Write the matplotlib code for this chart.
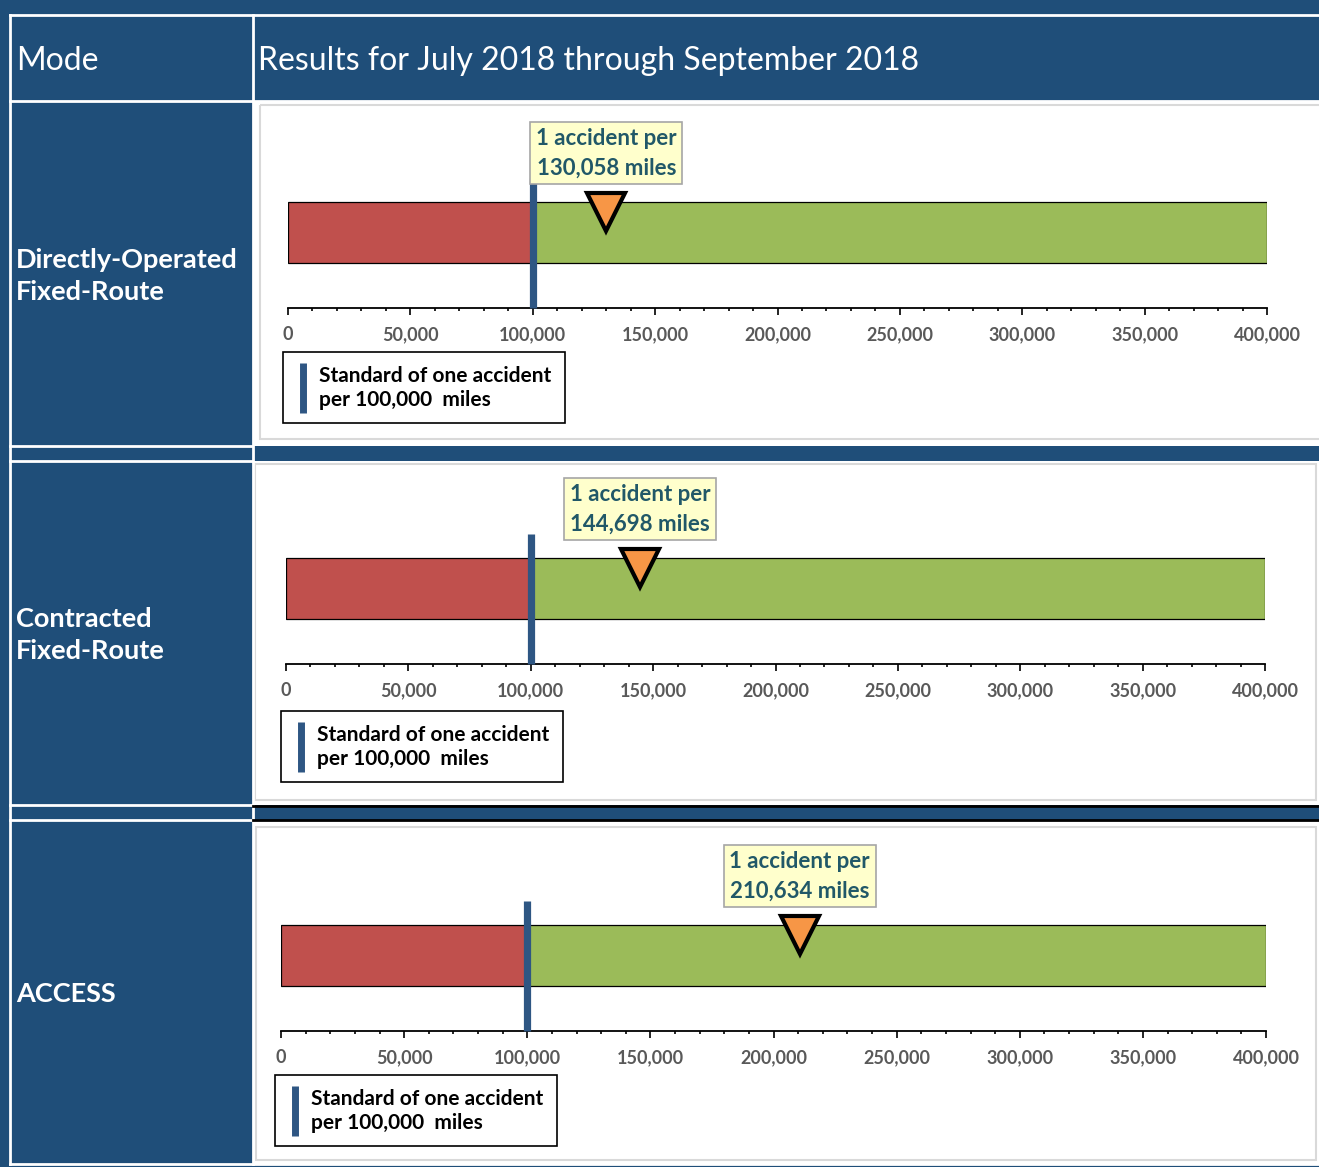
import numpy as np
import matplotlib
matplotlib.use("Agg")
import matplotlib.pyplot as plt
from matplotlib.patches import Rectangle
from matplotlib.lines import Line2D
from matplotlib.ticker import MultipleLocator, FuncFormatter

# data
modes = ["Directly-Operated\nFixed-Route", "Contracted\nFixed-Route", "ACCESS"]
miles_per_accident = [130058, 144698, 210634]
standard = 100000
axis_max = 400000
major_step = 50000
minor_step = 10000
header_left = "Mode"
header_right = "Results for July 2018 through September 2018"
legend_label = "Standard of one accident\nper 100,000  miles"

W, H = 1319, 1167
blue = "#1F4E79"
red = "#C0504D"
green = "#9BBB59"
orange = "#F79646"
std_color = "#2E5683"
teal = "#215868"
plt.rcParams["font.family"] = ["Lato", "DejaVu Sans"]

fig = plt.figure(figsize=(W / 100, H / 100), dpi=100, facecolor=blue)

def fx(x):
    return x / W

def fy(y):
    return 1 - y / H

# table background in pixel coords
bg = fig.add_axes([0, 0, 1, 1])
bg.set_xlim(0, W)
bg.set_ylim(H, 0)
bg.axis("off")

# white cells of the right column, one per row
rows = [(102, 446), (461, 805), (821, 1164)]
frames = [(260, 105, 1330, 439), (255, 464, 1316, 800), (256, 827, 1316, 1160)]
for (y0, y1), (a, b, c, d) in zip(rows, frames):
    bg.add_patch(Rectangle((253, y0), W - 253, y1 - y0, fc="white", ec="none"))
    bg.add_patch(Rectangle((a, b), c - a, d - b, fc="none", ec="#D9D9D9", lw=1.5))

# grid lines
for y in [15, 101, 446, 461, 805, 820, 1164]:
    bg.plot([10, 252 if y in (446, 461, 805, 820) else W], [y, y], color="white", lw=2)
bg.plot([10, 10], [15, 1164], color="white", lw=2)
bg.plot([252.5, 252.5], [15, 1164], color="white", lw=2)
bg.plot([253, W], [806, 806], color="black", lw=2)
bg.plot([253, W], [820, 820], color="black", lw=2)

bg.text(16, 61, header_left, color="white", fontsize=23, va="center", ha="left")
bg.text(258, 61, header_right, color="white", fontsize=23, va="center", ha="left")

# chart positions: x of 0, x of axis max, y of axis line, legend top-left
panels = [(288, 1267, 308, 283, 352), (286, 1265, 664, 281, 711), (281, 1266, 1031, 275, 1075)]
label_y = [276, 635, 994]
AH = 170  # axes height in px above axis line

for mode, val, (x0, x1, ay, lx, ly), ty in zip(modes, miles_per_accident, panels, label_y):
    bg.text(16, ty, mode, color="white", fontsize=19.5, fontweight="bold",
            va="center", ha="left", linespacing=1.4)

    ax = fig.add_axes([fx(x0), fy(ay), fx(x1 - x0), AH / H])
    ax.set_xlim(0, axis_max)
    ax.set_ylim(0, 1)
    ax.patch.set_alpha(0)
    for s in ["top", "left", "right"]:
        ax.spines[s].set_visible(False)
    ax.spines["bottom"].set_linewidth(1.3)
    ax.set_yticks([])
    ax.xaxis.set_major_locator(MultipleLocator(major_step))
    ax.xaxis.set_minor_locator(MultipleLocator(minor_step))
    ax.xaxis.set_major_formatter(FuncFormatter(lambda v, p: f"{v:,.0f}"))
    ax.tick_params(axis="x", which="major", direction="out", length=5, width=1.2,
                   pad=8, labelsize=13, labelcolor="#595959")
    ax.tick_params(axis="x", which="minor", direction="out", length=2.5, width=1.2)
    for t in ax.get_xticklabels():
        t.set_fontweight("bold")

    # red below the standard, green above it
    ax.barh(0.444, standard, left=0, height=0.359, color=red, edgecolor="black", lw=0.9, zorder=2)
    ax.barh(0.444, axis_max - standard, left=standard, height=0.359, color=green,
            edgecolor="black", lw=0.9, zorder=2)
    ax.plot([standard, standard], [0, 0.765], color=std_color, lw=5.2,
            solid_capstyle="butt", zorder=3, clip_on=False)
    ax.plot([val], [0.565], marker="v", markersize=27, color=orange,
            markeredgecolor="black", markeredgewidth=3, zorder=4, clip_on=False)
    ax.text(val, 0.912, f"1 accident per\n{val:,} miles", ha="center", va="center",
            fontsize=16, fontweight="bold", color=teal, linespacing=1.5, zorder=5,
            bbox=dict(boxstyle="square,pad=0.25", fc="#FFFFCC", ec="#A6A6A6", lw=1.2))

    handle = Line2D([], [], color=std_color, marker="|", linestyle="None",
                    markersize=36, markeredgewidth=5)
    leg = ax.legend([handle], [legend_label], loc="upper left",
                    bbox_to_anchor=(fx(lx), fy(ly)), bbox_transform=fig.transFigure,
                    borderaxespad=0, fancybox=False, edgecolor="black", framealpha=1,
                    handlelength=0.6, handletextpad=0.5, borderpad=0.65,
                    prop=dict(size=15, weight="bold"))
    leg.get_frame().set_linewidth(1.2)
    for t in leg.get_texts():
        t.set_linespacing(1.25)

fig.savefig("out.png", dpi=100, facecolor=blue)
